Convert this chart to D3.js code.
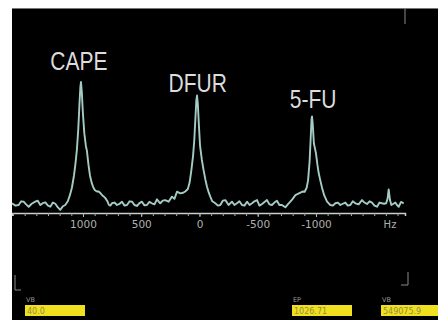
<!DOCTYPE html>
<html><head><meta charset="utf-8">
<script src="https://cdn.jsdelivr.net/npm/d3@7"></script>
<style>html,body{margin:0;padding:0;background:#fff;}svg{display:block;}</style>
</head><body>
<svg id="c" width="438" height="320"></svg>
<script>
// Spectrum: frequency (Hz) and relative intensity
const freqHz = [1609,1580,1552,1530,1509,1488,1466,1440,1409,1388,1366,1345,1323,1300,1280,1258,1237,1215,1195,1172,1152,1130,1112,1095,1077,1065,1052,1040,1030,1022,1017,1010,1000,988,975,966,953,940,925,910,897,880,865,854,835,811,790,777,765,751,730,708,686,665,643,622,600,579,558,537,515,494,472,451,430,408,386,365,337,315,294,265,236,215,193,165,140,122,100,85,70,55,45,35,27,21,14,5,-5,-20,-36,-50,-64,-80,-93,-110,-136,-158,-179,-200,-222,-250,-279,-300,-322,-343,-365,-386,-408,-430,-451,-472,-494,-515,-537,-558,-579,-600,-622,-643,-665,-686,-708,-737,-758,-780,-800,-823,-845,-866,-885,-903,-920,-932,-945,-955,-962,-966,-972,-982,-1000,-1012,-1023,-1037,-1052,-1070,-1095,-1123,-1145,-1166,-1188,-1209,-1230,-1252,-1273,-1295,-1316,-1338,-1366,-1395,-1416,-1438,-1460,-1481,-1502,-1524,-1545,-1567,-1585,-1602,-1614,-1624,-1635,-1647,-1665,-1681,-1695,-1710,-1730,-1753];
const intensity = [1.4,-0.5,0,3,2.7,0.5,-1.4,1,2.7,3.5,0,1.5,2.2,-0.5,-1.4,2,1,-2,-4,-1,0,3,8,14,24,33,45,62,82,96,100,92,74,58,48,44,33,24,18,14,12,11,11,10,8,6,3,0,-0.5,1.4,2,0,1,2.7,-0.5,0,3,2.7,0,-0.8,1.5,2.7,-0.3,0,2.5,1.4,0.5,4.6,1.4,3.5,4,2.7,6.8,5,10.8,9.5,10,11,13,18,28,40,52,70,85,89,82,65,48,37,28,21,15,10,6.8,3,1.4,-0.5,0,3.5,4,0,2.7,0,1.4,3,0,-0.5,2.7,0,1.4,3,4,-0.5,0.8,2.5,4,0.5,0,2,3.5,0,0,-1.9,0.5,2.7,5,8,9,10,11,10.8,14,20,35,55,70,72,66,50,42,33,26,20,14,8,2.7,0,-0.5,1.4,2,0,1,2,-0.5,0,3,1.4,0.5,4,2,0.8,3,2,-0.5,-1.4,2,1.4,1,1.4,5,12.7,4,0,1,2,0,-1.4,2.5,1.4];
const peakNames = ["CAPE","DFUR","5-FU"];
const peakHz = [1035,15,-975];
const peakLabelLevel = [110,92,79];
const majorTicks = [1000,500,0,-500,-1000];
const minorTicks = d3.range(1600,-1800,-100);
const unitLabel = "Hz";
const boxTitles = ["VB","EP","VB"];
const boxValues = ["40.0","1026.71","549075.9"];

const svg = d3.select("#c");
svg.append("rect").attr("x",12).attr("y",8).attr("width",426).attr("height",312).attr("fill","#000");
svg.append("line").attr("x1",12).attr("x2",438).attr("y1",8.5).attr("y2",8.5).attr("stroke","#777").attr("stroke-width",1);

const x = d3.scaleLinear().domain([1609,-1764]).range([12,405]);
const y = d3.scaleLinear().domain([-6.5,100]).range([213,82]);

// axis
const gMinor = svg.append("g").attr("transform","translate(0,213)")
  .call(d3.axisBottom(x).tickValues(minorTicks).tickSize(3).tickFormat(""));
gMinor.select(".domain").attr("stroke","#c8d0cc").attr("stroke-width",1.5);
gMinor.selectAll(".tick line").attr("stroke","#aaa").attr("stroke-width",1);
const gMajor = svg.append("g").attr("transform","translate(0,213)")
  .call(d3.axisBottom(x).tickValues(majorTicks).tickSize(4).tickPadding(4).tickFormat(d=>String(d)));
gMajor.select(".domain").remove();
gMajor.selectAll(".tick line").attr("stroke","#bbb");
gMajor.selectAll(".tick text").attr("fill","#b0b0b0").attr("font-family","DejaVu Sans").attr("font-size",10.5);
svg.append("text").attr("x",390).attr("y",228).attr("text-anchor","middle")
  .attr("fill","#b0b0b0").attr("font-family","DejaVu Sans").attr("font-size",10).text(unitLabel);

// spectrum line
const pts = freqHz.map((f,i)=>[f,intensity[i]]);
svg.append("path").datum(pts)
  .attr("d", d3.line().x(d=>x(d[0])).y(d=>y(d[1])))
  .attr("fill","none").attr("stroke","#a4ccc4").attr("stroke-width",1.9).attr("stroke-linejoin","round");

// peak labels
peakNames.forEach((n,i)=>{
  const tx = x(peakHz[i]), ty = y(peakLabelLevel[i]);
  svg.append("text").attr("transform",`translate(${tx},${ty}) scale(1,1.25)`)
    .attr("text-anchor","middle").attr("fill","#dcdcdc")
    .attr("font-family","Liberation Sans, Arial").attr("font-size",21).text(n);
});

// corner marks
const cm = "#8a8a8a";
svg.append("line").attr("x1",405).attr("x2",405).attr("y1",8).attr("y2",24).attr("stroke",cm);
svg.append("path").attr("d","M15,275V290H21").attr("fill","none").attr("stroke",cm);
svg.append("path").attr("d","M408,272V285H401").attr("fill","none").attr("stroke",cm);

// bottom boxes
const boxX = [25,292,381], boxW = [60,60,57];
boxTitles.forEach((t,i)=>{
  svg.append("text").attr("x",boxX[i]+1).attr("y",302).attr("fill","#999")
    .attr("font-family","DejaVu Sans").attr("font-size",6.5).text(t);
  svg.append("rect").attr("x",boxX[i]).attr("y",305).attr("width",boxW[i]).attr("height",11).attr("fill","#f0e020");
  svg.append("text").attr("x",boxX[i]+2).attr("y",313.5).attr("fill","#948e40")
    .attr("font-family","DejaVu Sans").attr("font-size",8).text(boxValues[i]);
});
</script>
</body></html>
